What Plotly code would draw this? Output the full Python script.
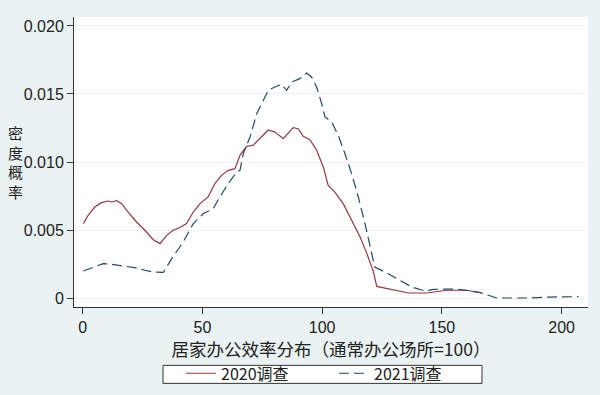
import plotly.graph_objects as go

# ---- data ----
x2020 = [0.3, 2.3, 5.1, 7.9, 10.7, 12.1, 14.2, 16.3, 19.0, 22.5, 26.0, 29.5, 32.3, 35.1, 37.8,
         40.6, 43.4, 46.2, 49.0, 52.4, 55.2, 58.0, 60.8, 63.6, 65.7, 68.5, 71.2, 74.0, 77.5,
         80.3, 83.8, 87.9, 90.0, 92.1, 94.9, 97.7, 100.5, 102.5, 105.3, 108.8, 112.3, 115.8,
         118.6, 121.3, 122.8, 127.6, 136.0, 143.6, 152.0, 160.3, 166.6]
y2020 = [0.00547, 0.00608, 0.00669, 0.00701, 0.00713, 0.00706, 0.00716, 0.00694, 0.00632,
         0.00559, 0.00498, 0.00429, 0.00400, 0.00461, 0.00498, 0.00518, 0.00547, 0.00632,
         0.00694, 0.00743, 0.00841, 0.00902, 0.00939, 0.00951, 0.01049, 0.01115, 0.01123,
         0.01175, 0.01235, 0.01220, 0.01172, 0.01253, 0.01245, 0.01189, 0.01164, 0.01086,
         0.00963, 0.00829, 0.00779, 0.00694, 0.00570, 0.00450, 0.00330, 0.00200, 0.00085,
         0.00069, 0.00037, 0.00037, 0.00057, 0.00057, 0.00037]

x2021 = [0.3, 3.8, 8.6, 12.1, 16.3, 21.8, 26.0, 29.5, 33.7, 37.2, 42.0, 46.2, 50.4, 54.5, 57.3,
         60.8, 64.3, 65.7, 67.1, 69.9, 72.7, 75.4, 77.5, 80.3, 83.1, 85.2, 87.3, 90.7, 93.5,
         95.6, 97.7, 99.8, 101.2, 104.0, 106.7, 109.5, 112.3, 115.1, 117.9, 120.7, 122.0,
         127.6, 137.4, 142.9, 146.4, 156.2, 161.7, 165.2, 172.9, 186.8, 195.1, 207.0]
y2021 = [0.00199, 0.00223, 0.00253, 0.00248, 0.00238, 0.00223, 0.00204, 0.00191, 0.00189,
         0.00290, 0.00412, 0.00547, 0.00621, 0.00657, 0.00743, 0.00841, 0.00927, 0.00939,
         0.01062, 0.01184, 0.01356, 0.01454, 0.01527, 0.01551, 0.01571, 0.01527, 0.01588,
         0.01613, 0.01655, 0.01625, 0.01551, 0.01429, 0.01331, 0.01294, 0.01196, 0.01062,
         0.00915, 0.00743, 0.00547, 0.00326, 0.00228, 0.00179, 0.00081, 0.00052, 0.00064,
         0.00066, 0.00051, 0.00044, 0.0, 0.0, 0.00007, 0.00010]

series_names = ["2020调查", "2021调查"]
x_ticks = [0, 50, 100, 150, 200]
y_ticks = [0, 0.005, 0.010, 0.015, 0.020]
y_tick_labels = ["0", "0.005", "0.010", "0.015", "0.020"]
x_title = "居家办公效率分布（通常办公场所=100）"
y_title = "密<br>度<br>概<br>率"

BG = "#EAF2F3"
FONT = "Liberation Sans, Noto Sans CJK SC, sans-serif"
CJK = "Noto Sans CJK SC, sans-serif"

# plot-area geometry in pixels (for paper-coordinate styling)
L, R, T, B = 74, 588, 17, 306.7
PW, PH = R - L, B - T

def px_to_paper_x(px):
    return (px - L) / PW

def px_to_paper_y(py):
    return (B - py) / PH

fig = go.Figure()
fig.add_trace(go.Scatter(x=x2020, y=y2020, mode="lines", name=series_names[0],
                         line=dict(color="#93393F", width=1.2)))
fig.add_trace(go.Scatter(x=x2021, y=y2021, mode="lines", name=series_names[1],
                         line=dict(color="#22486C", width=1.2, dash="10px,5px")))

fig.update_layout(
    width=600, height=395,
    paper_bgcolor=BG, plot_bgcolor="white",
    margin=dict(l=L, r=600 - R, t=T, b=395 - B, autoexpand=False),
    font=dict(family=FONT, size=16, color="#222"),
    showlegend=True,
    legend=dict(orientation="h", x=px_to_paper_x(181), xanchor="left",
                y=px_to_paper_y(356), yanchor="top",
                bgcolor="rgba(0,0,0,0)", borderwidth=0,
                font=dict(family=CJK, size=16, color="#222"),
                entrywidth=108, itemwidth=30),
    xaxis=dict(range=[-3.6, 211], tickvals=x_ticks, ticks="outside", ticklen=6,
               tickcolor="#333", showline=True, linecolor="#333", linewidth=1,
               showgrid=False, zeroline=False, automargin=False,
               tickfont=dict(size=16),
               title=dict(text=x_title, font=dict(family=CJK, size=17.5, color="#222"),
                          standoff=4)),
    yaxis=dict(range=[-0.00066, 0.02066], tickvals=y_ticks, ticktext=y_tick_labels,
               ticks="outside", ticklen=6, tickcolor="#333", showline=True,
               linecolor="#333", linewidth=1, showgrid=True, gridcolor=BG,
               gridwidth=1, zeroline=False, automargin=False,
               tickfont=dict(size=16)),
)

# legend frame
fig.add_shape(type="rect", xref="paper", yref="paper",
              x0=px_to_paper_x(163), x1=px_to_paper_x(482),
              y0=px_to_paper_y(383), y1=px_to_paper_y(365),
              fillcolor="white", line=dict(color="#333", width=1), layer="below")

# stacked vertical y-axis title
fig.add_annotation(text=y_title, xref="paper", yref="paper",
                   x=px_to_paper_x(15), y=px_to_paper_y(162), showarrow=False,
                   font=dict(family=CJK, size=15, color="#222"),
                   xanchor="center", yanchor="middle", align="center")

fig.write_html("out.html", config={"displayModeBar": False},
               post_script="document.body.style.margin='0';"
                           "document.body.style.overflow='hidden';")
